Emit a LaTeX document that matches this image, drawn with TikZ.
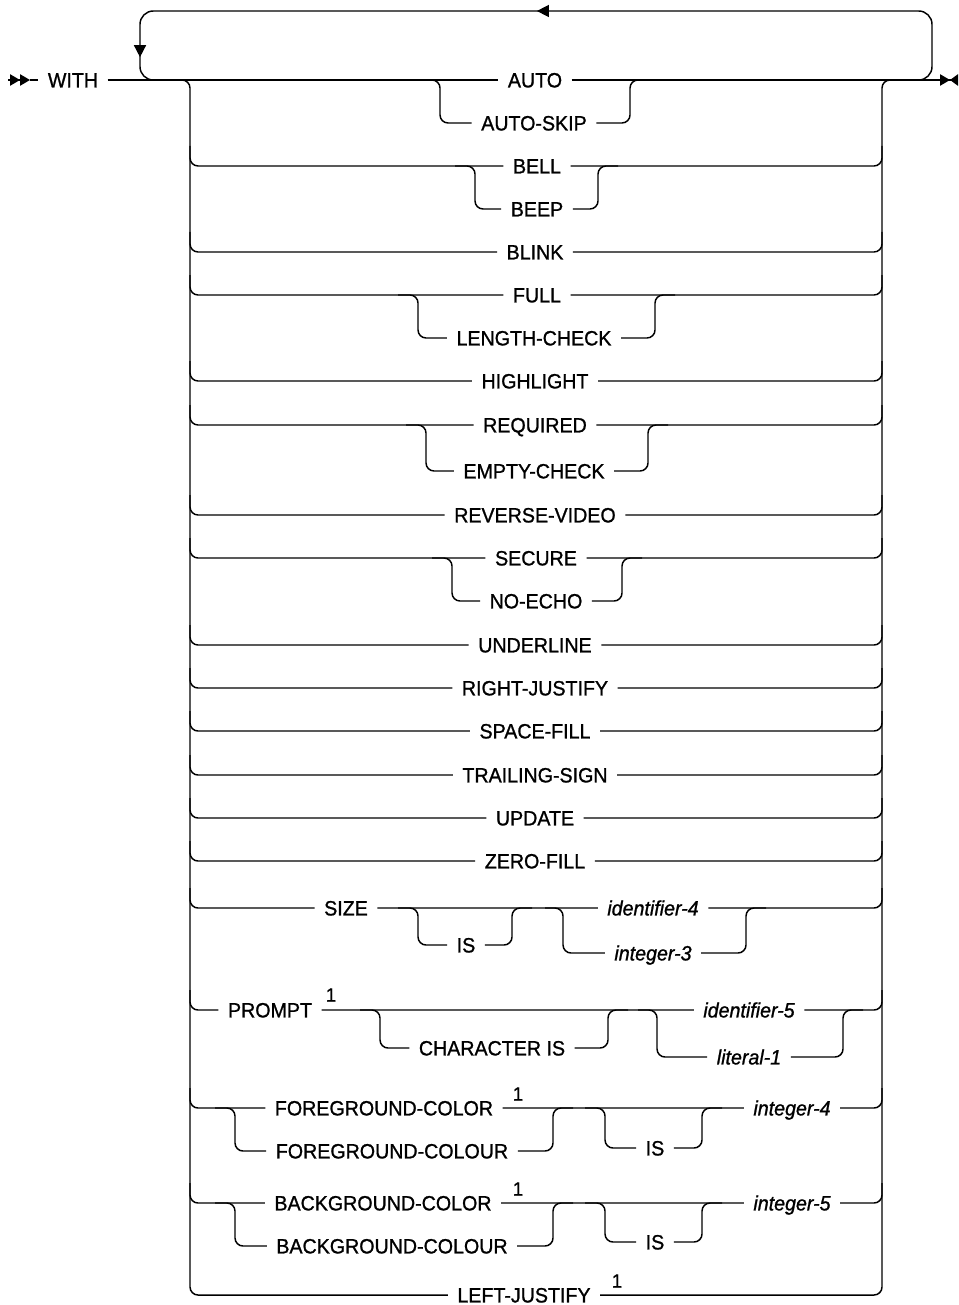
\documentclass[tikz,border=0pt]{standalone}
\usepackage{fontspec}
\setmainfont{Liberation Sans}[FakeStretch=0.95, FakeBold=1.0]
\usetikzlibrary{arrows.meta, positioning, decorations.markings}

\begin{document}
\begin{tikzpicture}[
  x=0.75pt, y=-0.75pt,
  kw/.style={font=\fontsize{15.5}{18}\selectfont, inner xsep=7pt, inner ysep=0pt,
             text height=11.1pt, text depth=0pt},
  var/.style={kw, font=\fontsize{15.5}{18}\selectfont\itshape},
  note/.style={font=\fontsize{14.5}{16}\selectfont, inner sep=0pt},
  rail/.style={line width=1.1pt, rounded corners=6pt},
  loopback/.style={rail, rounded corners=10pt, postaction={decorate},
    decoration={markings,
      mark=at position 386pt with {\arrow{Triangle[length=9pt,width=9pt]}},
      mark=at position 714pt with {\arrow{Triangle[length=9pt,width=9pt]}}}}
]
\useasboundingbox (0,0) rectangle (958,1305);

% entry and exit
\coordinate (start) at (8,80);
\coordinate (finish) at (958,80);
\node[kw] (with) at (73,80) {WITH};
\draw[line width=1.1pt, -{Triangle[length=7.5pt,width=8.5pt]Triangle[length=7.5pt,width=8.5pt]}]
  (start) -- (30,80);
\draw[rail] (30,80) -- (with);

% repeat loop
\draw[loopback] (870,80) -- (932,80) -- (932,11) -- (140,11) -- (140,80) -- (200,80);

% AUTO / AUTO-SKIP (main line)
\node[kw] (auto) at (535,80) {AUTO};
\node[kw] (autoskip) at (534,123) {AUTO-SKIP};
\draw[rail, -{Triangle[length=7.5pt,width=8.5pt]Triangle[reversed,length=6pt,width=8.5pt]}]
  (with) -- (auto) -- (finish);
\draw[rail] (420,80) -- (440,80) -- (440,123) -- (autoskip) -- (630,123) -- (630,80) -- (650,80);

% rails
\node[kw] (leftjust) at (524,1295) {LEFT-JUSTIFY};
\node[note] (ljnote) at (617,1281) {1};
\draw[rail] (165,80) -- (190,80) -- (190,1295) -- (leftjust);
\draw[rail] (leftjust) -- (882,1295) -- (882,80) -- (905,80);

% BELL / BEEP
\node[kw] (bell) at (537,166) {BELL};
\node[kw] (beep) at (537,209) {BEEP};
\draw[rail] (190,146) -- (190,166) -- (bell) -- (882,166) -- (882,146);
\draw[rail] (455,166) -- (475,166) -- (475,209) -- (beep) -- (598,209) -- (598,166) -- (618,166);

% FULL / LENGTH-CHECK
\node[kw] (full) at (537,295) {FULL};
\node[kw] (lengthcheck) at (534,338) {LENGTH-CHECK};
\draw[rail] (190,275) -- (190,295) -- (full) -- (882,295) -- (882,275);
\draw[rail] (398,295) -- (418,295) -- (418,338) -- (lengthcheck) -- (655,338) -- (655,295) -- (675,295);

% REQUIRED / EMPTY-CHECK
\node[kw] (required) at (535,425) {REQUIRED};
\node[kw] (emptycheck) at (534,471) {EMPTY-CHECK};
\draw[rail] (190,405) -- (190,425) -- (required) -- (882,425) -- (882,405);
\draw[rail] (406,425) -- (426,425) -- (426,471) -- (emptycheck) -- (648,471) -- (648,425) -- (668,425);

% SECURE / NO-ECHO
\node[kw] (secure) at (536,558) {SECURE};
\node[kw] (noecho) at (536,601) {NO-ECHO};
\draw[rail] (190,538) -- (190,558) -- (secure) -- (882,558) -- (882,538);
\draw[rail] (432,558) -- (452,558) -- (452,601) -- (noecho) -- (622,601) -- (622,558) -- (642,558);

% single keywords
\foreach \y/\name/\word in {252/blink/BLINK, 381/highlight/HIGHLIGHT,
    515/revvideo/REVERSE-VIDEO, 645/underline/UNDERLINE, 688/rightjust/RIGHT-JUSTIFY,
    731/spacefill/SPACE-FILL, 775/trailsign/TRAILING-SIGN, 818/update/UPDATE,
    861/zerofill/ZERO-FILL} {
  \node[kw] (\name) at (535,\y) {\word};
  \draw[rail] (190,\y-20) -- (190,\y) -- (\name) -- (882,\y) -- (882,\y-20);
}

% SIZE
\node[kw] (size) at (346,908) {SIZE};
\node[kw] (sizeis) at (466,945) {IS};
\node[var] (ident4) at (653,908) {identifier-4};
\node[var] (int3) at (653,953) {integer-3};
\draw[rail] (190,888) -- (190,908) -- (size) -- (ident4) -- (882,908) -- (882,888);
\draw[rail] (398,908) -- (418,908) -- (418,945) -- (sizeis) -- (512,945) -- (512,908) -- (532,908);
\draw[rail] (545,908) -- (563,908) -- (563,953) -- (int3) -- (746,953) -- (746,908) -- (766,908);

% PROMPT
\node[kw] (prompt) at (270,1010) {PROMPT};
\node[note] (promptnote) at (331,995) {1};
\node[kw] (charis) at (492,1048) {CHARACTER IS};
\node[var] (ident5) at (749,1010) {identifier-5};
\node[var] (literal1) at (749,1057) {literal-1};
\draw[rail] (190,990) -- (190,1010) -- (prompt) -- (ident5) -- (882,1010) -- (882,990);
\draw[rail] (360,1010) -- (380,1010) -- (380,1048) -- (charis) -- (608,1048) -- (608,1010) -- (628,1010);
\draw[rail] (638,1010) -- (657,1010) -- (657,1057) -- (literal1) -- (843,1057) -- (843,1010) -- (863,1010);

% FOREGROUND-COLOR
\node[kw] (fgcolor) at (384,1108) {FOREGROUND-COLOR};
\node[note] (fgnote) at (518,1094) {1};
\node[kw] (fgcolour) at (392,1151) {FOREGROUND-COLOUR};
\node[kw] (fgis) at (655,1148) {IS};
\node[var] (int4) at (792,1108) {integer-4};
\draw[rail] (190,1088) -- (190,1108) -- (fgcolor) -- (int4) -- (882,1108) -- (882,1088);
\draw[rail] (215,1108) -- (235,1108) -- (235,1151) -- (fgcolour) -- (553,1151) -- (553,1108) -- (573,1108);
\draw[rail] (585,1108) -- (605,1108) -- (605,1148) -- (fgis) -- (702,1148) -- (702,1108) -- (722,1108);

% BACKGROUND-COLOR
\node[kw] (bgcolor) at (383,1203) {BACKGROUND-COLOR};
\node[note] (bgnote) at (518,1189) {1};
\node[kw] (bgcolour) at (392,1246) {BACKGROUND-COLOUR};
\node[kw] (bgis) at (655,1242) {IS};
\node[var] (int5) at (792,1203) {integer-5};
\draw[rail] (190,1183) -- (190,1203) -- (bgcolor) -- (int5) -- (882,1203) -- (882,1183);
\draw[rail] (215,1203) -- (235,1203) -- (235,1246) -- (bgcolour) -- (553,1246) -- (553,1203) -- (573,1203);
\draw[rail] (585,1203) -- (605,1203) -- (605,1242) -- (bgis) -- (702,1242) -- (702,1203) -- (722,1203);
\end{tikzpicture}
\end{document}
